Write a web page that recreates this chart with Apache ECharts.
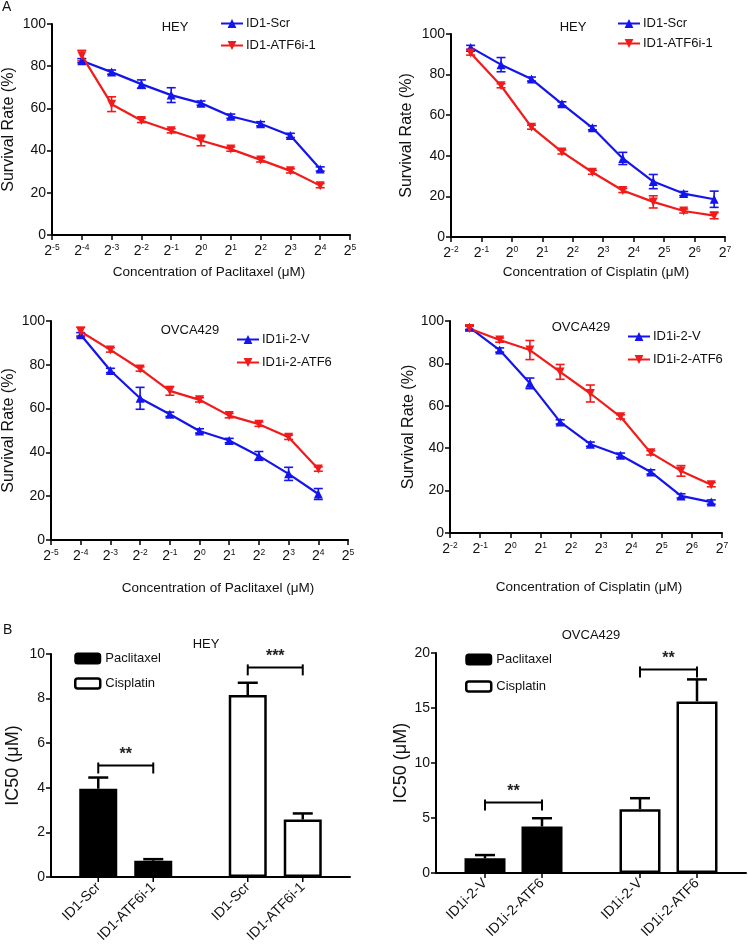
<!DOCTYPE html>
<html>
<head>
<meta charset="utf-8">
<script src="https://cdn.jsdelivr.net/npm/echarts@6/dist/echarts.min.js"></script>
<style>
html,body{margin:0;padding:0;background:#fff;}
#chart{width:748px;height:946px;}
</style>
</head>
<body>
<div id="chart"></div>
<script>
// ---------- DATA ----------
const pacConc = [0.0625, 0.125, 0.25, 0.5, 1, 2, 4, 8, 16];
const cisConc = [0.390625, 0.78125, 1.5625, 3.125, 6.25, 12.5, 25, 50, 100];
// x axes are drawn in powers of two: tick exponents
const pacTickExp = [-5, 5];
const cisTickExp = [-2, 7];

const heyPacScr    = [82.6, 77.2, 71.5, 66.3, 62.5, 56.3, 52.7, 47.2, 31.3];
const heyPacScrErr = [1, 1, 2, 3.5, 1, 1, 1, 1, 1];
const heyPacAtf    = [85.0, 62.0, 54.3, 49.4, 44.8, 40.7, 35.6, 30.4, 23.4];
const heyPacAtfErr = [2.5, 3.5, 1, 1, 2.5, 1, 1, 1, 1];

const heyCisScr    = [93.4, 84.9, 77.8, 65.6, 53.8, 38.7, 27.3, 21.4, 18.6];
const heyCisScrErr = [1, 3.5, 1, 1, 1, 3, 3.5, 1, 4];
const heyCisAtf    = [90.6, 74.5, 54.1, 41.9, 31.9, 22.9, 17.3, 12.8, 10.5];
const heyCisAtfErr = [1, 1, 1, 1, 1, 1, 3, 1, 1.5];

const ovPacV       = [93.7, 77.4, 64.7, 57.4, 49.8, 45.4, 38.4, 30.2, 21.0];
const ovPacVErr    = [1, 1, 5, 1, 1, 1, 2, 3, 2.5];
const ovPacAtf     = [95.2, 86.8, 78.1, 68.1, 64.0, 56.8, 52.9, 46.9, 32.4];
const ovPacAtfErr  = [2, 1, 1, 2, 1, 1, 1, 1, 1];

const ovCisV       = [97.0, 86.3, 70.6, 52.4, 41.9, 36.7, 28.8, 17.5, 14.6];
const ovCisVErr    = [1, 1, 2.5, 1, 1, 1, 1, 1, 1];
const ovCisAtf     = [96.5, 91.0, 86.3, 76.0, 65.8, 54.8, 37.8, 29.3, 22.8];
const ovCisAtfErr  = [1, 1, 4.5, 3.5, 4, 1, 1, 2.5, 1];

const drugs = ['Paclitaxel', 'Cisplatin'];
const heyLines = ['ID1-Scr', 'ID1-ATF6i-1'];
const ovLines = ['ID1i-2-V', 'ID1i-2-ATF6'];

const heyScrIC50 = [3.96, 8.16];
const heyScrErr  = [0.50, 0.55];
const heyAtfIC50 = [0.73, 2.58];
const heyAtfErr  = [0.07, 0.27];
const heySigY    = [5.0, 9.4];
const heySigText = ['**', '***'];

const ovVIC50    = [1.33, 5.8];
const ovVErr     = [0.30, 1.0];
const ovAtfIC50  = [4.23, 15.6];
const ovAtfErr   = [0.75, 2.0];
const ovSigY     = [6.4, 18.5];
const ovSigText  = ['**', '**'];

// ---------- STYLE ----------
const FONT = 'Liberation Sans, Arial, Helvetica, sans-serif';
const BLUE = '#1414ee';
const RED = '#f21a1a';

const chart = echarts.init(document.getElementById('chart'), null, {renderer: 'canvas'});

const grids = [
  {left: 50, top: 24, width: 300, height: 211},
  {left: 451, top: 34, width: 274, height: 203},
  {left: 50, top: 321, width: 298, height: 219},
  {left: 450, top: 321, width: 272, height: 212},
  {left: 51, top: 654, width: 299, height: 223},
  {left: 436, top: 653, width: 310, height: 220}
];

function supFmt(e) {
  return '{b|2}{s|' + e + '}';
}

function expX(gi, ext, name, gap, padL) {
  return {
    gridIndex: gi, type: 'value', min: ext[0], max: ext[1], interval: 1,
    name: name, nameLocation: 'middle', nameGap: gap,
    nameTextStyle: {fontFamily: FONT, fontSize: 13.5, color: '#111', padding: [0, 0, 0, padL]},
    axisLine: {onZero: false, lineStyle: {color: '#000', width: 2}},
    axisTick: {show: true, length: 5, lineStyle: {color: '#000', width: 1.5}},
    splitLine: {show: false},
    axisLabel: {
      margin: 8, color: '#111', formatter: supFmt, showMinLabel: true, showMaxLabel: true,
      rich: {
        b: {fontFamily: FONT, fontSize: 14, color: '#111', lineHeight: 17},
        s: {fontFamily: FONT, fontSize: 8.5, color: '#111', verticalAlign: 'top', lineHeight: 17, padding: [0, 0, 6, 0]}
      }
    }
  };
}

function valY(gi, max, interval, name, gap, nameSize) {
  return {
    gridIndex: gi, type: 'value', min: 0, max: max, interval: interval,
    name: name, nameLocation: 'middle', nameGap: gap,
    nameTextStyle: {fontFamily: FONT, fontSize: nameSize, color: '#111'},
    axisLine: {show: true, onZero: false, lineStyle: {color: '#000', width: 2}},
    axisTick: {show: true, length: 5, lineStyle: {color: '#000', width: 1.5}},
    splitLine: {show: false},
    axisLabel: {margin: 6, fontFamily: FONT, fontSize: 14, color: '#111'}
  };
}

function catX(gi) {
  return {
    gridIndex: gi, type: 'category', data: drugs,
    axisLine: {onZero: false, lineStyle: {color: '#000', width: 2}},
    axisTick: {show: false},
    axisLabel: {show: false},
    splitLine: {show: false}
  };
}

function lineSeries(gi, name, conc, vals, color, rot) {
  return {
    name: name, type: 'line', xAxisIndex: gi, yAxisIndex: gi,
    data: conc.map((c, i) => [Math.log2(c), vals[i]]),
    symbol: 'triangle', symbolSize: 9, symbolRotate: rot,
    lineStyle: {color: color, width: 2.2},
    itemStyle: {color: color},
    z: 3, animation: false
  };
}

function errSeries(gi, conc, vals, errs, color) {
  return {
    type: 'custom', xAxisIndex: gi, yAxisIndex: gi,
    data: conc.map((c, i) => [Math.log2(c), vals[i], errs[i]]),
    renderItem: function (params, api) {
      const x = api.value(0), y = api.value(1), e = api.value(2);
      const t = api.coord([x, y + e]);
      const b = api.coord([x, y - e]);
      const hw = 4.5;
      const st = {stroke: color, lineWidth: 1.6};
      return {type: 'group', children: [
        {type: 'line', shape: {x1: t[0], y1: t[1], x2: b[0], y2: b[1]}, style: st},
        {type: 'line', shape: {x1: t[0] - hw, y1: t[1], x2: t[0] + hw, y2: t[1]}, style: st},
        {type: 'line', shape: {x1: b[0] - hw, y1: b[1], x2: b[0] + hw, y2: b[1]}, style: st}
      ]};
    },
    z: 2, animation: false, silent: true
  };
}

const drugStyle = [
  {color: '#000', borderColor: '#000', borderWidth: 2},
  {color: '#fff', borderColor: '#000', borderWidth: 2.5}
];

function barSeries(gi, name, label, vals, bw, gap, stack) {
  return {
    name: name, type: 'bar', xAxisIndex: gi, yAxisIndex: gi, stack: stack,
    barWidth: bw, barGap: gap,
    data: vals.map((v, i) => ({value: v, itemStyle: drugStyle[i]})),
    label: {
      show: true, position: 'bottom', distance: 8, rotate: 45,
      align: 'right', verticalAlign: 'middle',
      formatter: label, fontFamily: FONT, fontSize: 14, color: '#111'
    },
    z: 2, animation: false
  };
}

function barErrSeries(gi, vals, errs, off) {
  return {
    type: 'custom', xAxisIndex: gi, yAxisIndex: gi,
    data: vals.map((v, i) => [i, v, errs[i]]),
    renderItem: function (params, api) {
      const i = api.value(0), v = api.value(1), e = api.value(2);
      const top = api.coord([i, v + e]);
      const bar = api.coord([i, v]);
      const base = api.coord([i, 0]);
      const x = top[0] + off;
      const st = {stroke: '#000', lineWidth: 2.5};
      return {type: 'group', children: [
        {type: 'line', shape: {x1: x, y1: top[1], x2: x, y2: bar[1]}, style: st},
        {type: 'line', shape: {x1: x - 10, y1: top[1], x2: x + 10, y2: top[1]}, style: st},
        {type: 'line', shape: {x1: x, y1: base[1], x2: x, y2: base[1] + 5}, style: {stroke: '#000', lineWidth: 1.5}}
      ]};
    },
    z: 3, animation: false, silent: true
  };
}

function sigSeries(gi, ys, texts, off) {
  return {
    type: 'custom', xAxisIndex: gi, yAxisIndex: gi,
    data: ys.map((y, i) => [i, y]),
    renderItem: function (params, api) {
      const i = api.value(0), y = api.value(1);
      const p = api.coord([i, y]);
      const x1 = p[0] - off, x2 = p[0] + off;
      const st = {stroke: '#000', lineWidth: 2};
      return {type: 'group', children: [
        {type: 'line', shape: {x1: x1, y1: p[1], x2: x2, y2: p[1]}, style: st},
        {type: 'line', shape: {x1: x1, y1: p[1] - 3, x2: x1, y2: p[1] + 8}, style: st},
        {type: 'line', shape: {x1: x2, y1: p[1] - 3, x2: x2, y2: p[1] + 8}, style: st},
        {type: 'text', style: {text: texts[params.dataIndex], x: p[0], y: p[1] - 3,
          align: 'center', verticalAlign: 'bottom', font: 'bold 16px ' + FONT, fill: '#222'}}
      ]};
    },
    z: 3, animation: false, silent: true
  };
}

function lineLegend(names, left, top, gap) {
  return {
    data: names, left: left, top: top, orient: 'vertical', itemGap: gap,
    itemWidth: 22, itemHeight: 11, selectedMode: false,
    textStyle: {fontFamily: FONT, fontSize: 13, color: '#111', padding: [0, 0, 0, -2]}
  };
}

function barLegend(left, top, gap) {
  return {
    data: [
      {name: 'Paclitaxel', icon: 'roundRect', itemStyle: {color: '#000', borderColor: '#000', borderWidth: 2}},
      {name: 'Cisplatin', icon: 'roundRect', itemStyle: {color: '#fff', borderColor: '#000', borderWidth: 2.5}}
    ],
    left: left, top: top, orient: 'vertical', itemGap: gap,
    itemWidth: 25, itemHeight: 10, selectedMode: false,
    textStyle: {fontFamily: FONT, fontSize: 13, color: '#111'}
  };
}

function txt(text, x, y, size, align) {
  return {type: 'text', x: x, y: y, style: {text: text, font: size + 'px ' + FONT, fill: '#111',
    align: align || 'center', verticalAlign: 'middle'}};
}

const bwL = 38, gapL = 17 / 38;
const bwR = 41, gapR = 16 / 41;
const offL = bwL * (1 + gapL) / 2;
const offR = bwR * (1 + gapR) / 2;

const option = {
  backgroundColor: '#fff',
  animation: false,
  textStyle: {fontFamily: FONT},
  grid: grids,
  xAxis: [
    expX(0, pacTickExp, 'Concentration of Paclitaxel (μM)', 30, 16),
    expX(1, cisTickExp, 'Concentration of Cisplatin (μM)', 28, 16),
    expX(2, pacTickExp, 'Concentration of Paclitaxel (μM)', 41, 37),
    expX(3, cisTickExp, 'Concentration of Cisplatin (μM)', 47, 6),
    catX(4),
    catX(5)
  ],
  yAxis: [
    valY(0, 100, 20, 'Survival Rate (%)', 35, 16),
    valY(1, 100, 20, 'Survival Rate (%)', 36, 16),
    valY(2, 100, 20, 'Survival Rate (%)', 34, 16),
    valY(3, 100, 20, 'Survival Rate (%)', 33, 16),
    valY(4, 10, 2, 'IC50 (μM)', 29, 18),
    valY(5, 20, 5, 'IC50 (μM)', 26, 18)
  ],
  legend: [
    lineLegend(['ID1-Scr', 'ID1-ATF6i-1'], 215, 12, 9),
    lineLegend(['ID1-Scr', 'ID1-ATF6i-1'], 612, 12, 7),
    lineLegend(['ID1i-2-V', 'ID1i-2-ATF6'], 231, 328, 10),
    lineLegend(['ID1i-2-V', 'ID1i-2-ATF6'], 622, 325, 10),
    barLegend(69, 647, 12),
    barLegend(460, 648, 14)
  ],
  graphic: [
    txt('A', 2, 7, 14, 'left'),
    txt('B', 3, 630, 14, 'left'),
    txt('HEY', 175, 27, 13),
    txt('HEY', 573, 27, 13),
    txt('OVCA429', 190, 330, 13),
    txt('OVCA429', 581, 327, 13),
    txt('HEY', 206, 644, 13),
    txt('OVCA429', 591, 635, 13)
  ],
  series: [
    lineSeries(0, 'ID1-Scr', pacConc, heyPacScr, BLUE, 0),
    lineSeries(0, 'ID1-ATF6i-1', pacConc, heyPacAtf, RED, 180),
    errSeries(0, pacConc, heyPacScr, heyPacScrErr, BLUE),
    errSeries(0, pacConc, heyPacAtf, heyPacAtfErr, RED),

    lineSeries(1, 'ID1-Scr', cisConc, heyCisScr, BLUE, 0),
    lineSeries(1, 'ID1-ATF6i-1', cisConc, heyCisAtf, RED, 180),
    errSeries(1, cisConc, heyCisScr, heyCisScrErr, BLUE),
    errSeries(1, cisConc, heyCisAtf, heyCisAtfErr, RED),

    lineSeries(2, 'ID1i-2-V', pacConc, ovPacV, BLUE, 0),
    lineSeries(2, 'ID1i-2-ATF6', pacConc, ovPacAtf, RED, 180),
    errSeries(2, pacConc, ovPacV, ovPacVErr, BLUE),
    errSeries(2, pacConc, ovPacAtf, ovPacAtfErr, RED),

    lineSeries(3, 'ID1i-2-V', cisConc, ovCisV, BLUE, 0),
    lineSeries(3, 'ID1i-2-ATF6', cisConc, ovCisAtf, RED, 180),
    errSeries(3, cisConc, ovCisV, ovCisVErr, BLUE),
    errSeries(3, cisConc, ovCisAtf, ovCisAtfErr, RED),

    // legend-only entries for drug fill styles (no data, share a stack slot)
    {name: 'Paclitaxel', type: 'bar', xAxisIndex: 4, yAxisIndex: 4, stack: 'hA', data: [],
      itemStyle: {color: '#000'}},
    {name: 'Cisplatin', type: 'bar', xAxisIndex: 4, yAxisIndex: 4, stack: 'hA', data: [],
      itemStyle: {color: '#fff', borderColor: '#000', borderWidth: 2.5}},

    barSeries(4, 'HEY ' + heyLines[0], heyLines[0], heyScrIC50, bwL, (gapL * 100) + '%', 'hA'),
    barSeries(4, 'HEY ' + heyLines[1], heyLines[1], heyAtfIC50, bwL, (gapL * 100) + '%', 'hB'),
    barErrSeries(4, heyScrIC50, heyScrErr, -offL),
    barErrSeries(4, heyAtfIC50, heyAtfErr, offL),
    sigSeries(4, heySigY, heySigText, offL),

    barSeries(5, 'OVCA429 ' + ovLines[0], ovLines[0], ovVIC50, bwR, (gapR * 100) + '%', 'oA'),
    barSeries(5, 'OVCA429 ' + ovLines[1], ovLines[1], ovAtfIC50, bwR, (gapR * 100) + '%', 'oB'),
    barErrSeries(5, ovVIC50, ovVErr, -offR),
    barErrSeries(5, ovAtfIC50, ovAtfErr, offR),
    sigSeries(5, ovSigY, ovSigText, offR)
  ]
};

chart.setOption(option);
</script>
</body>
</html>
